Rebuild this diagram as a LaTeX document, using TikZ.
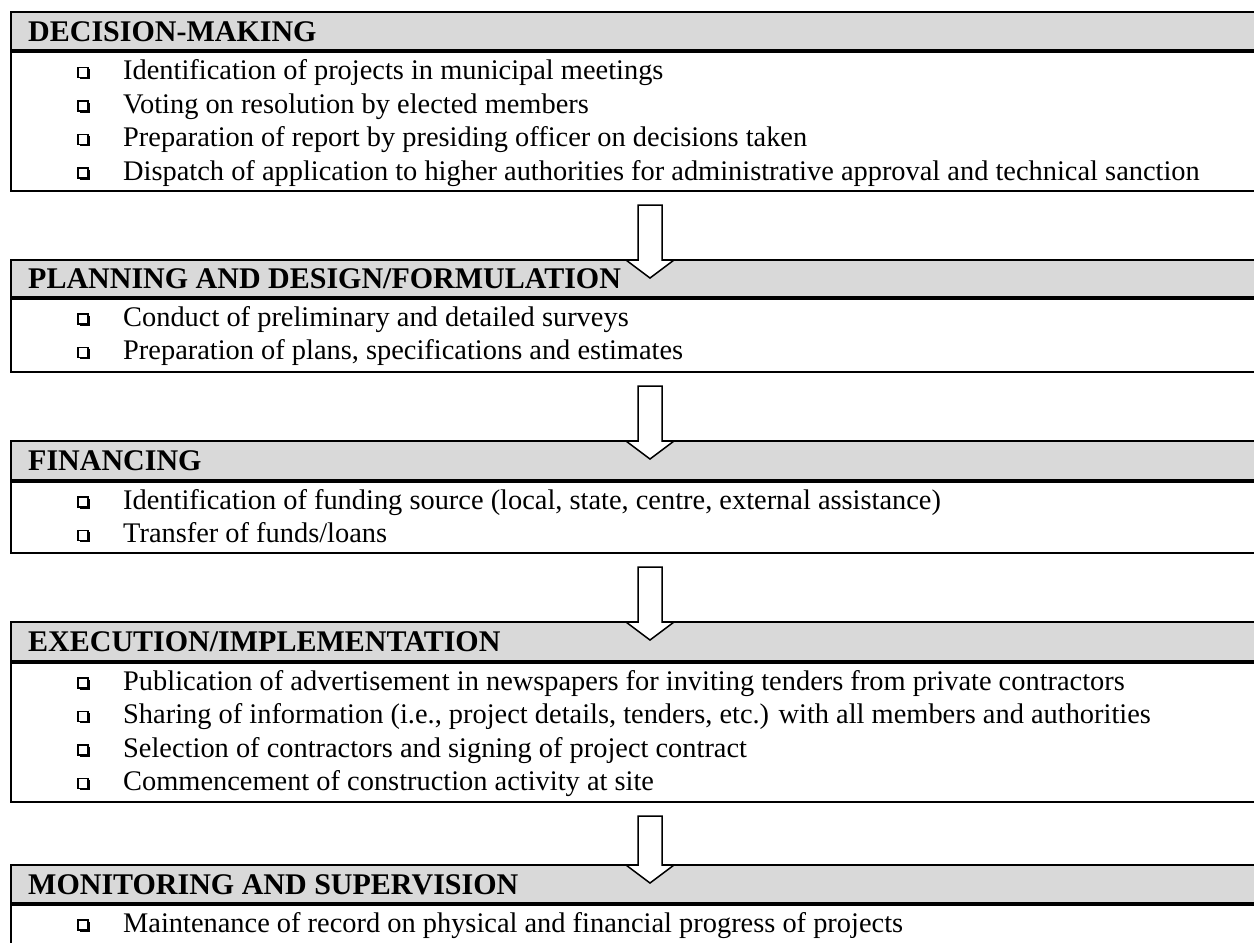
\documentclass[tikz,border=0pt]{standalone}
\usepackage{fontspec}
\setmainfont{Liberation Serif}
\usetikzlibrary{calc,shadows}
\definecolor{hdrgray}{HTML}{D9D9D9}
\tikzset{
  boxframe/.style={draw,line width=2pt,inner sep=0pt,outer sep=0pt,anchor=north west,minimum width=1278pt},
  hdrfill/.style={fill=hdrgray,inner sep=0pt,outer sep=0pt,anchor=north west,minimum width=1278pt},
  hdrtext/.style={anchor=base west,inner sep=0pt,font=\fontsize{30}{34}\selectfont\bfseries},
  itemtext/.style={anchor=base west,inner sep=0pt,font=\fontsize{28.4}{33.5}\selectfont},
  chk/.style={draw,line width=1.2pt,fill=white,minimum size=10pt,inner sep=0pt,
    drop shadow={shadow xshift=1.8pt,shadow yshift=-1.8pt,fill=black,opacity=1}},
  blockarrow/.style={draw,fill=white,line width=1.5pt,line join=miter},
  sepline/.style={line width=4pt},
}
\newcommand\bitem[3]{%
  \node[chk] (#1c) at (83,{#2-7}) {};
  \node[itemtext] (#1) at (123,#2) {#3};}
\newcommand\blockarr[2]{%
  \draw[blockarrow] ($(#1.south)+(-12,14)$) -- ($(#1.south)+(12,14)$) -- ($(#2.north)+(12,0)$)
    -- ($(#2.north)+(24,0)$) -- ($(#2.north)+(0,18)$) -- ($(#2.north)+(-24,0)$)
    -- ($(#2.north)+(-12,0)$) -- cycle;}
\begin{document}
\begin{tikzpicture}[x=1pt,y=-1pt]
\useasboundingbox (0,0) rectangle (1254,943);
\fill[white] (0,0) rectangle (1254,943);
\clip (0,0) rectangle (1254,943);

% headers (gray fill)
\node[hdrfill,minimum height=39pt] (h1) at (11,12) {};
\node[hdrfill,minimum height=38pt] (h2) at (11,260) {};
\node[hdrfill,minimum height=40pt] (h3) at (11,441) {};
\node[hdrfill,minimum height=40pt] (h4) at (11,622) {};
\node[hdrfill,minimum height=39pt] (h5) at (11,865) {};

% frames
\node[boxframe,minimum height=179pt] (b1) at (11,12) {};
\node[boxframe,minimum height=112pt] (b2) at (11,260) {};
\node[boxframe,minimum height=112pt] (b3) at (11,441) {};
\node[boxframe,minimum height=180pt] (b4) at (11,622) {};
\node[boxframe,minimum height=120pt] (b5) at (11,865) {};

% header separator lines
\foreach \h in {h1,h2,h3,h4,h5}
  \draw[sepline] (\h.south west) -- (\h.south east);

% header texts
\node[hdrtext] (t1) at (28,41) {DECISION-MAKING};
\node[hdrtext] (t2) at (28,288.5) {PLANNING AND DESIGN/FORMULATION};
\node[hdrtext] (t3) at (28,470.5) {FINANCING};
\node[hdrtext] (t4) at (28,651.5) {EXECUTION/IMPLEMENTATION};
\node[hdrtext] (t5) at (28,894) {MONITORING AND SUPERVISION};

% items
\bitem{a1}{79.5}{Identification of projects in municipal meetings}
\bitem{a2}{113}{Voting on resolution by elected members}
\bitem{a3}{146.5}{Preparation of report by presiding officer on decisions taken}
\bitem{a4}{180}{Dispatch of application to higher authorities for administrative approval and technical sanction}

\bitem{p1}{326}{Conduct of preliminary and detailed surveys}
\bitem{p2}{359.5}{Preparation of plans, specifications and estimates}

\bitem{f1}{509}{Identification of funding source (local, state, centre, external assistance)}
\bitem{f2}{542.5}{Transfer of funds/loans}

\bitem{e1}{690}{Publication of advertisement in newspapers for inviting tenders from private contractors}
\bitem{e2}{723.5}{Sharing of information (i.e., project details, tenders, etc.) with all members and authorities}
\bitem{e3}{757}{Selection of contractors and signing of project contract}
\bitem{e4}{790.5}{Commencement of construction activity at site}

\bitem{m1}{932}{Maintenance of record on physical and financial progress of projects}

% block arrows
\blockarr{b1}{b2}
\blockarr{b2}{b3}
\blockarr{b3}{b4}
\blockarr{b4}{b5}
\end{tikzpicture}
\end{document}
